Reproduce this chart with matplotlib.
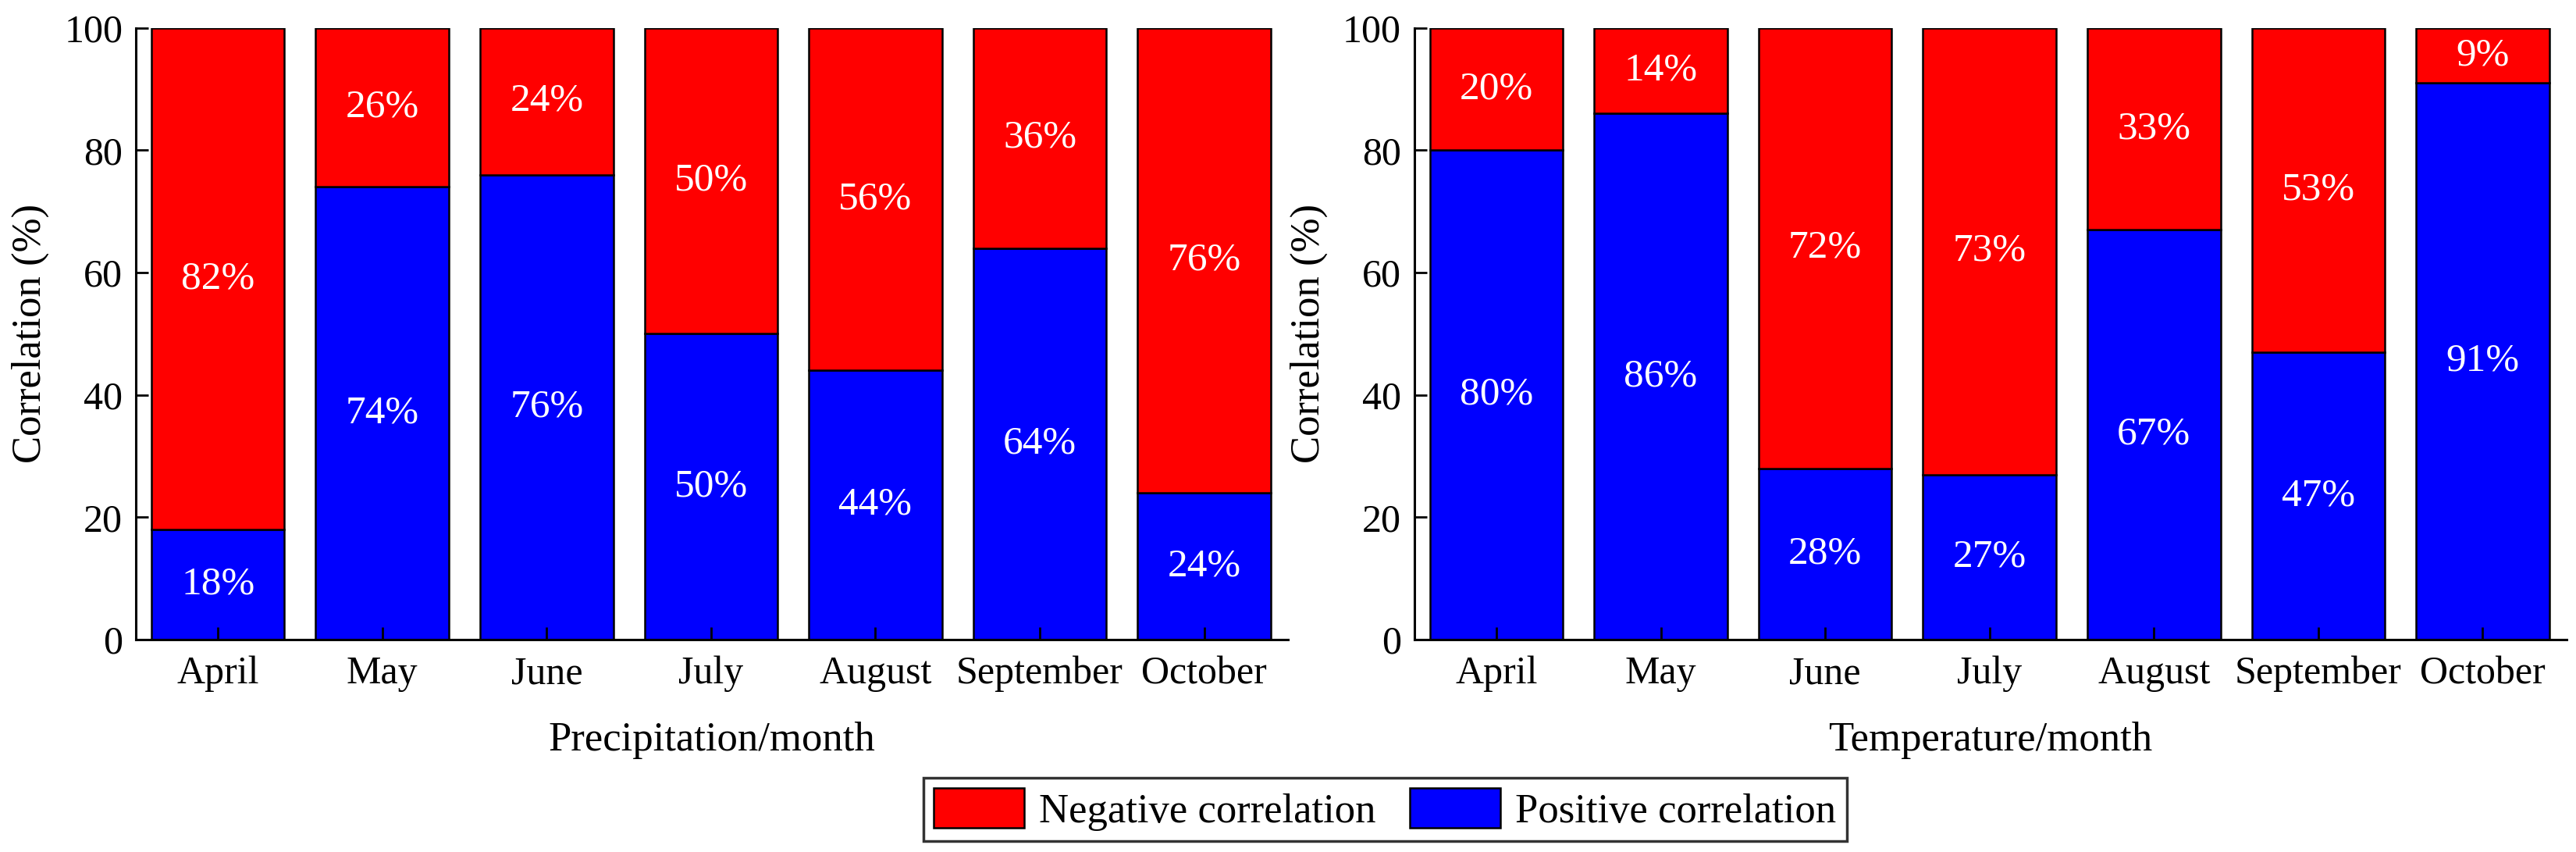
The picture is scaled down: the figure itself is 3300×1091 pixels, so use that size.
import numpy as np
import matplotlib
matplotlib.use('Agg')
import matplotlib.pyplot as plt

months = ['April', 'May', 'June', 'July', 'August', 'September', 'October']
precip_pos = [18, 74, 76, 50, 44, 64, 24]
precip_neg = [82, 26, 24, 50, 56, 36, 76]
temp_pos = [80, 86, 28, 27, 67, 47, 91]
temp_neg = [20, 14, 72, 73, 33, 53, 9]

plt.rcParams['font.family'] = ['Liberation Serif', 'DejaVu Serif']
plt.rcParams['font.size'] = 36

fig = plt.figure(figsize=(33, 10.91), dpi=100)
ax1 = fig.add_axes([0.0527, 0.2493, 0.4473, 0.718])
ax2 = fig.add_axes([0.549, 0.2493, 0.4473, 0.718])

x = np.arange(len(months))


def draw(ax, pos, neg, xlabel):
    b1 = ax.bar(x, pos, width=0.81, color='#0000ff', edgecolor='black', linewidth=1.8,
                label='Positive correlation')
    b2 = ax.bar(x, neg, width=0.81, bottom=pos, color='#ff0000', edgecolor='black',
                linewidth=1.8, label='Negative correlation')
    for i in range(len(x)):
        ax.text(x[i], pos[i] / 2, '%d%%' % pos[i], color='white', ha='center', va='center',
                fontsize=37)
        ax.text(x[i], pos[i] + neg[i] / 2, '%d%%' % neg[i], color='white', ha='center',
                va='center', fontsize=37)
    ax.set_xlim(-0.5, 6.51)
    ax.set_ylim(0, 100)
    ax.set_yticks([0, 20, 40, 60, 80, 100])
    ax.set_xticks(x)
    ax.set_xticklabels(months)
    ax.spines['top'].set_visible(False)
    ax.spines['right'].set_visible(False)
    ax.spines['left'].set_linewidth(2.2)
    ax.spines['bottom'].set_linewidth(2.2)
    ax.tick_params(direction='in', length=11.5, width=2.0, labelsize=36, pad=12)
    ax.tick_params(axis='x', pad=15)
    ax.set_ylabel('Correlation (%)', fontsize=38, labelpad=14)
    ax.set_xlabel(xlabel, fontsize=38, labelpad=27)
    return b1, b2


b1, b2 = draw(ax1, precip_pos, precip_neg, 'Precipitation/month')
draw(ax2, temp_pos, temp_neg, 'Temperature/month')

leg = fig.legend([b2, b1], ['Negative correlation', 'Positive correlation'],
                 loc='center', bbox_to_anchor=(0.5376, 0.05), ncol=2, fontsize=38,
                 frameon=True, fancybox=False, handlelength=2.2, handleheight=1.1,
                 handletextpad=0.36, columnspacing=0.83, borderpad=0.25,
                 borderaxespad=0)
leg.get_frame().set_edgecolor('black')
leg.get_frame().set_linewidth(2.5)

fig.savefig('out.png', dpi=100)
